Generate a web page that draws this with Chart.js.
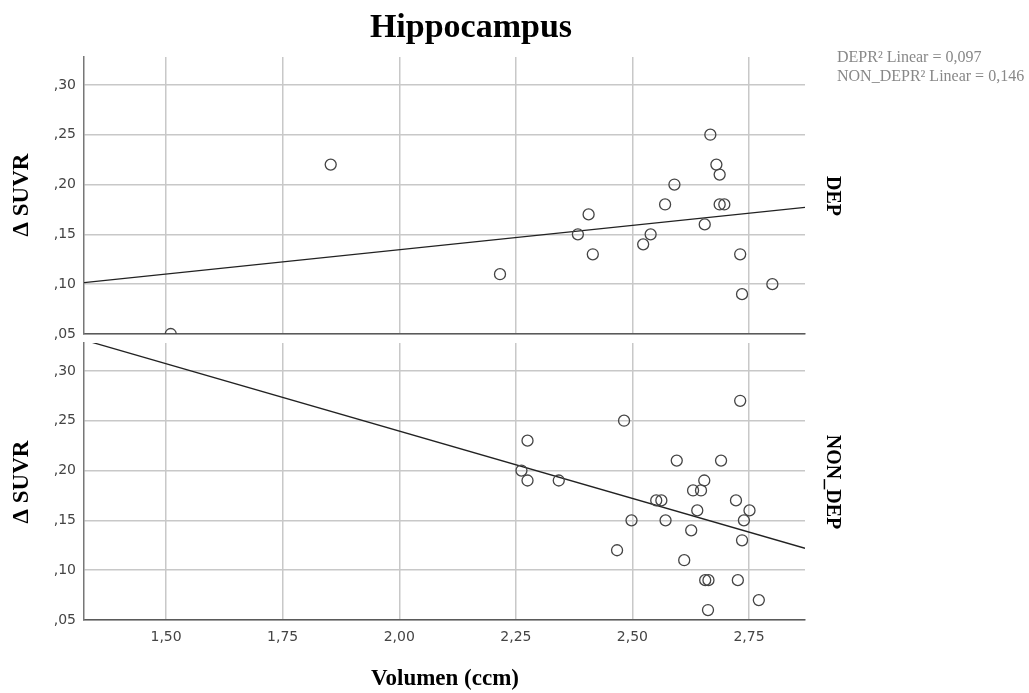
<!DOCTYPE html>
<html>
<head>
<meta charset="utf-8">
<script src="https://cdn.jsdelivr.net/npm/chart.js@4"></script>
<style>
  body { margin: 0; background: white; }
  canvas { position: absolute; left: 0; top: 0; }
</style>
</head>
<body>
<canvas id="topChart" width="1029" height="693"></canvas>
<canvas id="bottomChart" width="1029" height="693"></canvas>
<script>
// DEP group
const depX = [1.853, 1.51, 2.216, 2.383, 2.406, 2.415, 2.523, 2.539, 2.570, 2.590, 2.655, 2.667, 2.680, 2.687, 2.687, 2.697, 2.731, 2.735, 2.800]
const depY = [0.22, 0.05, 0.11, 0.15, 0.17, 0.13, 0.14, 0.15, 0.18, 0.20, 0.16, 0.25, 0.22, 0.21, 0.18, 0.18, 0.13, 0.09, 0.10]

// NON_DEP group
const nonX = [2.262, 2.275, 2.275, 2.342, 2.467, 2.482, 2.498, 2.551, 2.562, 2.571, 2.595, 2.611, 2.626, 2.630, 2.639, 2.647, 2.654, 2.656, 2.662, 2.663, 2.690, 2.722, 2.726, 2.731, 2.735, 2.739, 2.751, 2.771]
const nonY = [0.20, 0.23, 0.19, 0.19, 0.12, 0.25, 0.15, 0.17, 0.17, 0.15, 0.21, 0.11, 0.14, 0.18, 0.16, 0.18, 0.19, 0.09, 0.06, 0.09, 0.21, 0.17, 0.09, 0.27, 0.13, 0.15, 0.16, 0.07]

// fit lines (end points)
const fitX = [1.324, 2.87]
const depFit = [0.1015, 0.177]
const nonFit = [0.331, 0.122]

const xMin = 1.324, xMax = 2.87
const yMin = 0.05, yMax = 0.328

const legendLines = ['DEPR\u00B2 Linear = 0,097', 'NON_DEPR\u00B2 Linear = 0,146']

const serif = '"Liberation Serif", "Times New Roman", serif'
const tickFont = { family: '"DejaVu Sans", sans-serif', size: 14 }

function pts(xs, ys) {
    return xs.map((x, i) => ({ x: x, y: ys[i] }))
}

function yLabel(v) {
    return v.toFixed(2).replace(/^0\./, ',')
}

function xLabel(v) {
    return v.toFixed(2).replace('.', ',')
}

function vtext(c, txt, x, y, angle, font) {
    c.save()
    c.translate(x, y)
    c.rotate(angle)
    c.font = font
    c.fillStyle = '#000'
    c.textAlign = 'center'
    c.textBaseline = 'alphabetic'
    c.fillText(txt, 0, 0)
    c.restore()
}

function makeOptions(showX, padding, xHeight) {
    return {
        responsive: false,
        animation: false,
        layout: { padding: padding },
        plugins: { legend: { display: false }, tooltip: { enabled: false } },
        scales: {
            x: {
                type: 'linear',
                min: xMin,
                max: xMax,
                afterFit: s => { s.height = xHeight },
                grid: { color: '#c8c8c8', lineWidth: 1.5, drawTicks: false },
                border: { color: '#5a5a5a', width: 1.5 },
                ticks: {
                    display: showX,
                    stepSize: 0.25,
                    includeBounds: false,
                    padding: 9,
                    color: '#444',
                    font: tickFont,
                    callback: v => xLabel(v)
                }
            },
            y: {
                min: yMin,
                max: yMax,
                afterFit: s => { s.width = 84 },
                grid: { color: '#c8c8c8', lineWidth: 1.5, drawTicks: false },
                border: { color: '#777', width: 1.5 },
                ticks: {
                    stepSize: 0.05,
                    includeBounds: false,
                    padding: 8,
                    color: '#444',
                    font: tickFont,
                    callback: v => yLabel(v)
                }
            }
        }
    }
}

function datasets(xs, ys, fit) {
    return [{
        data: pts(xs, ys),
        pointRadius: 5.5,
        pointBorderColor: '#444',
        pointBorderWidth: 1.3,
        pointBackgroundColor: 'rgba(0,0,0,0)'
    }, {
        type: 'line',
        data: pts(fitX, fit),
        borderColor: '#222',
        borderWidth: 1.3,
        pointRadius: 0
    }]
}

const topTexts = {
    id: 'topTexts',
    afterDraw(chart) {
        const c = chart.ctx
        c.save()
        c.font = 'bold 34px ' + serif
        c.fillStyle = '#000'
        c.textAlign = 'center'
        c.fillText('Hippocampus', 471, 37)
        c.font = '16px ' + serif
        c.fillStyle = '#888'
        c.textAlign = 'left'
        c.textBaseline = 'middle'
        c.fillText(legendLines[0], 837, 58)
        c.fillText(legendLines[1], 837, 77)
        c.restore()
        vtext(c, '\u0394 SUVR', 28, 195, -Math.PI / 2, 'bold 23px ' + serif)
        vtext(c, 'DEP', 827, 196, Math.PI / 2, 'bold 20px ' + serif)
    }
}

const bottomTexts = {
    id: 'bottomTexts',
    afterDraw(chart) {
        const c = chart.ctx
        vtext(c, '\u0394 SUVR', 28, 482, -Math.PI / 2, 'bold 23px ' + serif)
        vtext(c, 'NON_DEP', 827, 482, Math.PI / 2, 'bold 20px ' + serif)
        vtext(c, 'Volumen (ccm)', 445, 685, 0, 'bold 23px ' + serif)
    }
}

const topChart = new Chart(document.getElementById('topChart'), {
    type: 'scatter',
    data: { datasets: datasets(depX, depY, depFit) },
    options: makeOptions(false, { top: 57, left: 0, right: 224, bottom: 359 }, 0),
    plugins: [topTexts]
})

const bottomChart = new Chart(document.getElementById('bottomChart'), {
    type: 'scatter',
    data: { datasets: datasets(nonX, nonY, nonFit) },
    options: makeOptions(true, { top: 343, left: 0, right: 224, bottom: 0 }, 73),
    plugins: [bottomTexts]
})
</script>
</body>
</html>
